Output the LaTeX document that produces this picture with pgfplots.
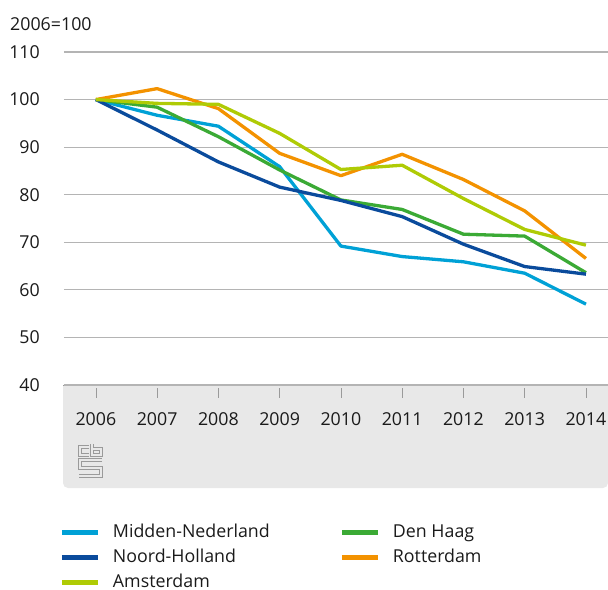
\documentclass[border=0pt]{standalone}
\usepackage{fontspec}
\setmainfont{Open Sans}
\usepackage{pgfplots}
\pgfplotsset{compat=1.18}

\definecolor{midned}{HTML}{00A1D6}
\definecolor{noordh}{HTML}{0A4B9C}
\definecolor{adam}{HTML}{AFCB05}
\definecolor{denhaag}{HTML}{3BAA35}
\definecolor{rdam}{HTML}{F39200}
\definecolor{bandgrey}{HTML}{E8E8E8}
\definecolor{gridgrey}{HTML}{B4B4B4}
\definecolor{hundred}{HTML}{8C8C8C}
\definecolor{tickgrey}{HTML}{9A9A9A}
\definecolor{txt}{HTML}{1A1A1A}

\begin{document}
\fontsize{17.8bp}{21bp}\selectfont
\begin{tikzpicture}
\useasboundingbox (-64bp,-205bp) rectangle (544bp,385bp);
% grey band under the axis
\fill[bandgrey] (544bp,0) -- (-1bp,0) [rounded corners=5bp] -- (-1bp,-103bp) -- (544bp,-103bp) [sharp corners] -- cycle;
\draw[tickgrey, line width=1bp] (-1bp,0) -- (544bp,0);
% cbs logo
\def\cbslogo#1{%
  \draw[#1] (25bp,-62bp) -- (16bp,-62bp) -- (16bp,-70bp) -- (25bp,-70bp);
  \draw[#1] (28bp,-59bp) -- (28bp,-70bp) -- (37bp,-70bp) -- (37bp,-64bp) -- (28bp,-64bp);
  \draw[#1] (38bp,-75bp) -- (16bp,-75bp) -- (16bp,-83bp) -- (37bp,-83bp) -- (37bp,-91bp) -- (15bp,-91bp);}
\cbslogo{tickgrey, line width=3.4bp}
\cbslogo{bandgrey, line width=1.5bp}
% ticks below the axis
\foreach \i in {0,...,8}{
  \draw[tickgrey, line width=1bp] ({32bp+\i*61.25bp},-3bp) -- ({32bp+\i*61.25bp},-13bp);
}
\node[anchor=west, inner sep=0pt, text=txt] at (-54bp,361bp) {2006=100};

\begin{axis}[
  at={(0,0)}, anchor=south west,
  scale only axis, width=544bp, height=333bp,
  xmin=2005.48, xmax=2014.36, ymin=40, ymax=110,
  clip=false,
  axis line style={draw=none},
  tick style={draw=none},
  xtick={2006,...,2014},
  ytick={40,50,...,110},
  ymajorgrids,
  major grid style={gridgrey, line width=1.1bp},
  extra y ticks={100},
  extra y tick labels={},
  extra y tick style={grid style={hundred, line width=3bp}},
  /pgf/number format/assume math mode=true,
  /pgf/number format/1000 sep={},
  xticklabel style={anchor=center, inner sep=0pt, yshift=-34bp, text=txt},
  yticklabel style={anchor=east, inner sep=0pt, xshift=-24bp, text=txt},
  every axis plot/.append style={line width=3.3bp, line join=round},
  legend columns=2,
  legend cell align=left,
  legend image code/.code={\draw[line width=4bp] (0bp,0bp) -- (36bp,0bp);},
  legend style={
    at={(-0.0074,-0.4174)}, anchor=north west,
    draw=none, fill=none, inner sep=0pt, outer sep=0pt,
    row sep=8bp,
    nodes={inner sep=0pt, text height=13bp, text depth=4bp, text=txt},
    /tikz/every odd column/.style={column sep=13bp},
    /tikz/every even column/.style={column sep=0bp},
  },
]
\addplot[midned] coordinates {
  (2006,100) (2007,96.7) (2008,94.4) (2009,85.9) (2010,69.2)
  (2011,67.0) (2012,65.9) (2013,63.5) (2014,57.0)};
\addlegendentry{\makebox[227bp][l]{Midden-Nederland}}
\addplot[denhaag] coordinates {
  (2006,100) (2007,98.4) (2008,92.2) (2009,85.2) (2010,78.9)
  (2011,76.9) (2012,71.7) (2013,71.3) (2014,63.6)};
\addlegendentry{Den Haag}
\addplot[noordh] coordinates {
  (2006,100) (2007,93.6) (2008,86.9) (2009,81.6) (2010,78.8)
  (2011,75.4) (2012,69.6) (2013,64.9) (2014,63.3)};
\addlegendentry{\makebox[227bp][l]{Noord-Holland}}
\addplot[rdam] coordinates {
  (2006,100) (2007,102.3) (2008,98.1) (2009,88.7) (2010,84.0)
  (2011,88.5) (2012,83.2) (2013,76.6) (2014,66.6)};
\addlegendentry{Rotterdam}
\addplot[adam] coordinates {
  (2006,100) (2007,99.2) (2008,99.0) (2009,92.9) (2010,85.3)
  (2011,86.2) (2012,79.2) (2013,72.7) (2014,69.4)};
\addlegendentry{\makebox[227bp][l]{Amsterdam}}
\end{axis}
\end{tikzpicture}
\end{document}
